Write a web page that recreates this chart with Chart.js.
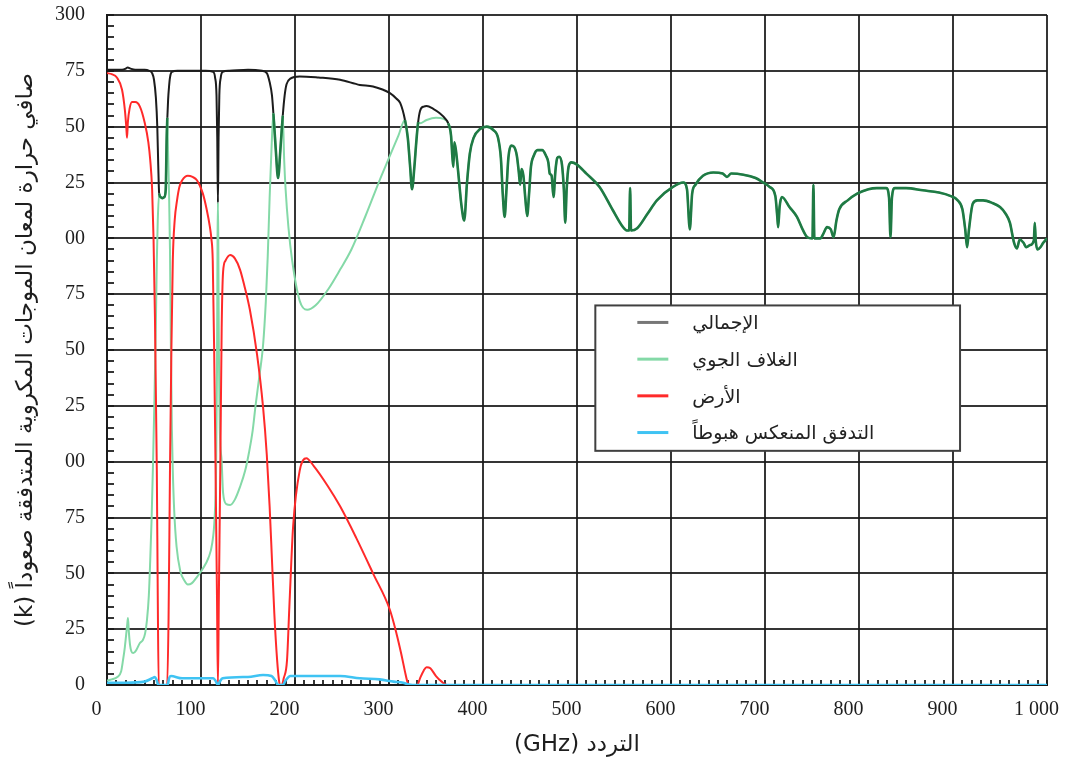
<!DOCTYPE html>
<html>
<head>
<meta charset="utf-8">
<script src="https://cdn.jsdelivr.net/npm/chart.js@4.4.1/dist/chart.umd.min.js"></script>
<style>
  html, body { margin: 0; padding: 0; background: #ffffff; }
  #wrap { width: 1065px; height: 767px; position: relative; }
  canvas { display: block; }
</style>
</head>
<body>
<div id="wrap"><canvas id="c" width="1065" height="767"></canvas></div>
<script>
// ---------------- DATA ----------------
const seriesLabels = ['الإجمالي', 'الغلاف الجوي', 'الأرض', 'التدفق المنعكس هبوطاً'];
const xTitle = 'التردد (GHz)';
const yTitle = 'صافي حرارة لمعان الموجات المكروية المتدفقة صعوداً (k)';

const xTickValues = [0, 100, 200, 300, 400, 500, 600, 700, 800, 900, 1000];
const xTickLabels = ['0', '100', '200', '300', '400', '500', '600', '700', '800', '900', '1 000'];
const yTickValues = [0, 25, 50, 75, 100, 125, 150, 175, 200, 225, 250, 275, 300];
const yTickLabels = ['0', '25', '50', '75', '00', '25', '50', '75', '00', '25', '50', '75', '300'];

// Total (low-frequency part, where it differs from the atmosphere curve)
const totalFreq = [0, 5, 10, 16, 20, 22, 25, 30, 40, 45, 48, 50, 52, 53.5, 54.5, 55.5, 57, 59, 61, 62.5, 63.5, 64.2,
  65, 66, 67, 69, 75, 90, 105, 113, 115, 116.5, 117.3, 118, 118.7, 119.5, 121, 123, 130, 150, 165, 170, 173, 175.5,
  177, 179.5, 182, 184.5, 187, 189, 191, 195, 205, 225, 248, 269, 283, 301, 308, 312, 317, 320, 322.5, 324.5, 327,
  329, 331, 333, 337, 340, 347, 354, 360];
const totalK = [275.5, 275.5, 275.5, 275.5, 276, 276.5, 276, 275.5, 275.5, 275, 274, 271, 263, 250, 233, 220, 218.5, 218, 218.5, 222, 245, 254,
  262, 268, 272, 274.5, 275, 275, 275, 274.5, 272, 264, 245, 216, 245, 264, 272, 274.5, 275, 275.5, 275, 274, 270, 264,
  256, 240, 227, 240, 255, 264, 269, 271.5, 272.5, 272, 271, 268.7, 268, 265, 262.5, 260.5, 253, 245, 232, 222, 232,
  243, 252, 257, 259, 259.2, 258, 256, 253.5];

// Atmosphere (low-frequency part)
const atmFreq = [0, 5, 11, 15, 17, 19, 20.5, 21.5, 22.3, 23.2, 24.5, 26, 28, 31, 35, 38, 40.5, 42.5, 44.5, 46, 47.5, 49,
  50.5, 52, 53, 54, 55.5, 57, 59, 61, 62.5, 63.5, 64.2, 65, 66, 67, 68, 69, 70, 71.5, 74, 78, 82, 86, 90, 95, 101, 108,
  112, 114.5, 116, 117, 117.6, 118, 118.4, 119, 120, 122, 123.5, 127, 131, 136, 141.5, 147, 151, 155, 158, 162, 166,
  169, 171, 173, 175, 177, 179.5, 182, 184.5, 187, 188.5, 190, 193, 197, 205, 213, 222, 235, 248, 260, 275, 290, 301,
  310, 317, 320, 322.5, 324.5, 327, 329, 331, 333, 340, 350, 358];
const atmK = [2, 2.5, 3.6, 6, 11, 17, 23, 27, 30, 24, 18, 15, 14.3, 15.5, 18.8, 20, 23, 29, 40, 56, 75, 100,
  128, 162, 190, 208, 220, 218.5, 218, 218.5, 222, 245, 254, 238, 220, 195, 150, 115, 96, 78, 62, 51, 47, 45, 45.5, 48, 51.5, 57,
  63.6, 75, 95, 140, 200, 216, 200, 150, 115, 100, 86, 81, 80.6, 83, 88.7, 96, 104, 114, 125, 138, 152,
  172, 192, 218, 240, 256, 240, 227, 240, 255, 235, 222, 205, 190, 172, 168, 170, 177, 186, 195, 210, 226, 237,
  246, 253, 245, 232, 222, 232, 243, 252, 251.5, 253, 254, 253.5];

// High-frequency part, where total and atmosphere coincide
const sharedFreq = [363, 366, 367.5, 368.5, 369.5, 371, 374, 377, 380, 383, 386, 390, 397, 404, 411, 416, 419, 421, 423,
  425, 427, 430, 433, 436, 438, 439.5, 441, 443, 445, 447, 449, 451, 454, 458, 463, 467, 469.5, 471, 473, 475, 477, 479,
  481, 484, 486, 487.5, 489, 491, 494, 500, 510, 524, 538, 549, 553, 555.5, 556.5, 557.5, 564, 575, 585, 602, 613, 617,
  620, 622.5, 626, 634, 645, 655, 659.5, 664, 677, 690, 698, 705, 711, 713, 714, 715.5, 718, 726, 734, 740, 745, 750.5,
  751.5, 752.5, 759, 762, 766, 770, 773, 776, 779, 788, 798, 810, 819, 829, 832, 833.5, 835, 838, 850, 868, 885, 897,
  905, 910, 913, 915, 917, 921, 926, 932, 941, 950, 956, 960.5, 965, 968, 971, 975, 978, 982, 986, 987, 988, 990, 993,
  996, 1000];
const sharedK = [251.5, 246, 236, 232, 243, 240, 228, 215, 208, 225, 238, 245, 249, 250, 248.5, 245, 236, 220, 209.6,
  222, 236, 241.5, 241, 237, 230, 224, 231, 228, 218, 210, 220, 232, 237, 239.5, 239.5, 237, 234, 229, 228, 218.5, 230, 236,
  236.5, 233, 222, 207, 222, 232, 234, 233, 229, 223, 212.7, 205, 203.5, 203.5, 222.5, 203.5, 204.5, 211, 217, 223, 225, 222,
  204, 220, 224, 228, 229.5, 229, 227.5, 229, 228.5, 227, 225, 223, 219, 210, 205, 214, 218.5, 214, 209.6, 204, 200.5, 200,
  224, 200, 200, 202, 205, 204, 200.5, 208, 213, 217, 220, 222, 222.5, 222.5, 218, 200.5, 218, 222.5, 222.5, 221.5, 220.5, 219,
  217, 213, 204, 196, 204, 215.5, 217, 217, 216, 214, 211, 207, 198, 195.5, 199.5, 198, 196, 197, 199, 207, 199, 195, 196,
  198, 200];

// Ground
const groundFreq = [0, 5, 10.5, 16, 19, 20.5, 21.3, 22.2, 24, 26.6, 30, 35, 40, 44, 46, 48, 49.5, 51, 53, 54, 55, 64,
  65.5, 67, 68.5, 70, 72, 74.5, 77, 80, 86, 91, 95.7, 102, 106, 109.5, 111, 112.5, 114, 115.5, 117, 118, 119, 120.5, 122,
  123.5, 126, 131, 136, 141.5, 146, 152, 159.6, 166, 170, 173, 175.5, 178, 181, 183, 184, 186, 188, 191.5, 194, 198, 205,
  212, 220, 235, 248, 265, 283, 301, 308, 313, 317, 319.5, 321, 330, 333, 337, 340, 344, 350, 356, 362, 1000];
const groundK = [274, 273.5, 272, 266.5, 257.5, 250, 245, 252, 258, 261, 261, 259, 252, 243, 235, 222, 200, 165, 96, 40, 0, 0,
  30, 96, 150, 190, 208, 217, 223, 226, 228, 227.5, 226, 220, 213, 205, 200, 190, 150, 96, 40, 0, 40, 96, 160,
  185, 190, 192.5, 191, 186, 179, 168, 148, 124.5, 103, 80, 56, 32, 11, 2, 0, 0, 3, 11, 35, 71, 96,
  101.5, 98, 89, 80, 66, 50, 33.6, 23, 14, 6, 1.5, 0, 0, 3, 6.5, 8, 7.5, 4, 1.5, 0, 0];

// Reflected downward flux
const reflFreq = [0, 20, 40, 48, 51, 53, 54.5, 64.5, 66, 68, 80, 100, 113, 116, 118, 120, 123, 150, 166, 175, 179, 182,
  187, 190, 195, 220, 248, 269, 290, 305, 315, 320, 325, 1000];
const reflK = [1, 1, 1.5, 3, 3.6, 2, 0, 0, 3, 4, 3, 3, 3, 1.5, 0, 1.5, 3, 3.6, 4.5, 4, 2, 0,
  0, 2, 4, 4, 4, 3, 2.5, 1.5, 1, 0.3, 0, 0];

// ---------------- BUILD ----------------
const totalAllF = totalFreq.concat(sharedFreq);
const totalAllK = totalK.concat(sharedK);
const atmAllF = atmFreq.concat(sharedFreq);
const atmAllK = atmK.concat(sharedK);

function pts(fs, ks) { return fs.map((f, i) => ({ x: f, y: ks[i] })); }

function atmAt(f) {
  if (f <= atmAllF[0]) return atmAllK[0];
  for (let i = 1; i < atmAllF.length; i++) {
    if (f <= atmAllF[i]) {
      const t = (f - atmAllF[i - 1]) / (atmAllF[i] - atmAllF[i - 1]);
      return atmAllK[i - 1] + t * (atmAllK[i] - atmAllK[i - 1]);
    }
  }
  return atmAllK[atmAllK.length - 1];
}
function coincides(ctx) {
  const a = ctx.p0.parsed, b = ctx.p1.parsed;
  return Math.abs(a.y - atmAt(a.x)) < 0.8 && Math.abs(b.y - atmAt(b.x)) < 0.8;
}

const GRID = 'rgba(25,25,25,0.88)';
const TOTAL_C = '#1c1c1c';
const DARKGREEN = '#1f7a44';

const legendBox = {
  id: 'legendBox',
  afterDraw(chart) {
    const { ctx, chartArea: ca } = chart;
    const w = ca.right - ca.left, h = ca.bottom - ca.top;
    const x0 = ca.left + w * 0.5195, x1 = ca.left + w * 0.9075;
    const y0 = ca.top + h * 0.4335, y1 = ca.top + h * 0.6505;
    ctx.save();
    ctx.fillStyle = '#ffffff';
    ctx.fillRect(x0, y0, x1 - x0, y1 - y0);
    ctx.strokeStyle = '#404040';
    ctx.lineWidth = 2;
    ctx.strokeRect(x0, y0, x1 - x0, y1 - y0);
    ctx.font = '19px "DejaVu Sans", sans-serif';
    ctx.textBaseline = 'middle';
    ctx.textAlign = 'left';
    chart.data.datasets.forEach((ds, i) => {
      const yy = y0 + 17 + i * 36.7;
      ctx.strokeStyle = ds.legendColor;
      ctx.lineWidth = 3;
      ctx.beginPath();
      ctx.moveTo(x0 + 42, yy);
      ctx.lineTo(x0 + 73, yy);
      ctx.stroke();
      ctx.fillStyle = '#222222';
      ctx.fillText(ds.label, x0 + 97, yy + 2);
    });
    ctx.restore();
  }
};

const common = { pointRadius: 0, pointHoverRadius: 0, fill: false, cubicInterpolationMode: 'monotone', tension: 0.4 };

new Chart(document.getElementById('c'), {
  type: 'line',
  data: {
    datasets: [
      Object.assign({}, common, {
        label: seriesLabels[0], data: pts(totalAllF, totalAllK), borderColor: TOTAL_C, borderWidth: 2,
        legendColor: '#777777', order: 1,
        segment: {
          borderColor: ctx => coincides(ctx) ? DARKGREEN : TOTAL_C,
          borderWidth: ctx => coincides(ctx) ? 2.6 : 2
        }
      }),
      Object.assign({}, common, {
        label: seriesLabels[1], data: pts(atmAllF, atmAllK), borderColor: '#84d9a7', borderWidth: 2,
        legendColor: '#84d9a7', order: 3
      }),
      Object.assign({}, common, {
        label: seriesLabels[2], data: pts(groundFreq, groundK), borderColor: '#ff2a2a', borderWidth: 2,
        legendColor: '#ff2a2a', order: 2
      }),
      Object.assign({}, common, {
        label: seriesLabels[3], data: pts(reflFreq, reflK), borderColor: '#3fc3f3', borderWidth: 2.6,
        legendColor: '#3fc3f3', order: 0
      })
    ]
  },
  options: {
    responsive: false,
    devicePixelRatio: 1,
    animation: false,
    events: [],
    layout: { padding: { left: 0, right: 18, top: 15, bottom: 0 } },
    plugins: { legend: { display: false }, tooltip: { enabled: false } },
    scales: {
      x: {
        type: 'linear', position: 'bottom', min: 0, max: 1000,
        afterFit: s => { s.height = 82; s.paddingLeft = 0; s.paddingRight = 0; },
        ticks: {
          stepSize: 10, autoSkip: false, maxRotation: 0, minRotation: 0,
          padding: 18, labelOffset: -10.5, color: '#1e1e1e',
          font: { family: '"Liberation Serif", serif', size: 20 },
          callback: v => { const i = xTickValues.indexOf(v); return i >= 0 ? xTickLabels[i] : ''; }
        },
        grid: {
          color: c => (c.tick && c.tick.value % 100 === 0) ? GRID : 'rgba(0,0,0,0)',
          lineWidth: 2, tickLength: -5, tickColor: GRID, tickWidth: 2
        },
        border: { display: true, color: GRID, width: 2 },
        title: {
          display: true, text: '\u202B' + xTitle + '\u202C', color: '#1e1e1e',
          font: { family: '"DejaVu Sans", sans-serif', size: 23 },
          padding: { top: 0, bottom: 8 }
        }
      },
      y: {
        type: 'linear', position: 'left', min: 0, max: 300,
        afterFit: s => { s.width = 107; s.paddingTop = 0; s.paddingBottom = 0; },
        ticks: {
          stepSize: 5, autoSkip: false, padding: 29, color: '#1e1e1e',
          font: { family: '"Liberation Serif", serif', size: 20 },
          callback: v => { const i = yTickValues.indexOf(v); return i >= 0 ? yTickLabels[i] : ''; }
        },
        grid: {
          color: c => (c.tick && c.tick.value % 25 === 0) ? GRID : 'rgba(0,0,0,0)',
          lineWidth: 2, tickLength: -7, tickColor: GRID, tickWidth: 2
        },
        border: { display: true, color: GRID, width: 2 },
        title: {
          display: true, text: '\u202B' + yTitle + '\u202C', color: '#1e1e1e',
          font: { family: '"DejaVu Sans", sans-serif', size: 23 },
          padding: { top: 12, bottom: 0 }
        }
      }
    }
  },
  plugins: [legendBox]
});
</script>
</body>
</html>
